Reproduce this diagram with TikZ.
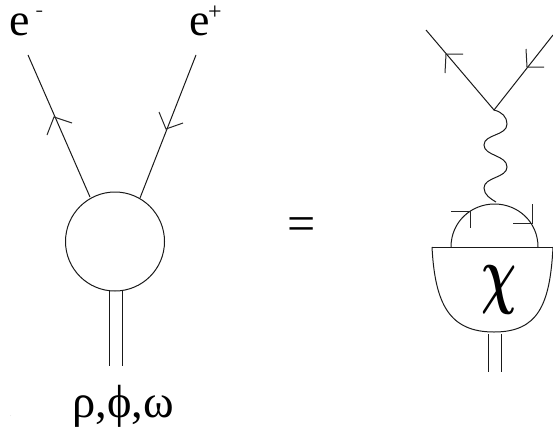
\documentclass[tikz,border=0pt]{standalone}
\usepackage{fontspec}
\setmainfont{Liberation Serif}
\begin{document}
\begin{tikzpicture}[x=1pt,y=-1pt,
  line/.style={draw=black!90,line width=1pt,line join=miter},
  barb/.style={draw=black!85,line width=1pt},
  lbl/.style={inner sep=0pt,outer sep=0pt,anchor=base west}]
\useasboundingbox (0,0) rectangle (553,431);
% labels
\node[lbl,font=\fontsize{46}{46}\selectfont] (em) at (9.5,35.5) {e};
\node[lbl,font=\fontsize{16}{16}\selectfont] (emsup) at (35.5,15.5) {\scalebox{1.4}[1]{-}};
\node[lbl,font=\fontsize{46}{46}\selectfont] (ep) at (189.5,35.5) {e};
\node[lbl,font=\fontsize{24}{24}\selectfont] (epsup) at (208,19) {+};
\node[lbl,font=\fontsize{46.5}{46.5}\selectfont] (mesons) at (72.5,417) {ρ,ϕ,ω};
\node[lbl,font=\fontsize{50}{50}\selectfont] (eq) at (287,240.5) {=};
\node[lbl,font=\fontsize{3}{3}\selectfont] (dot) at (10.5,416.5) {.};
% left blob
\node[circle,line,minimum size=99pt,inner sep=0pt] (blob) at (115,241.5) {};
\coordinate (a1) at (28,55);
\coordinate (a2) at (90,197);
\coordinate (b1) at (196,55);
\coordinate (b2) at (140,198);
\draw[line] (a1) -- (a2);
\draw[line] (b1) -- (b2);
\draw[barb] (47,135) -- (54,117) -- (72,123);
\draw[barb] (159,112) -- (166,129) -- (183,123);
\coordinate (c1) at (109,291);
\coordinate (c2) at (109,366);
\coordinate (d1) at (122,291);
\coordinate (d2) at (122,366);
\draw[line] (c1) -- (c2);
\draw[line] (d1) -- (d2);
% right vertex
\coordinate (v) at (494,110);
\coordinate (f1) at (426,30);
\coordinate (f2) at (553,35);
\draw[line] (f1) -- (v) -- (f2);
\draw[barb] (445,73) -- (446,54) -- (463,54);
\draw[barb] (526,49) -- (527,67) -- (544,67);
% photon
\coordinate (w) at (496,202);
\draw[line] (v) .. controls (502,112) and (507,117) .. (507,124)
  .. controls (507,136) and (484,134) .. (484,145)
  .. controls (484,156) and (507,155) .. (507,167)
  .. controls (507,178) and (484,177) .. (484,188)
  .. controls (484,195) and (491,199) .. (w);
% quark loop
\coordinate (q1) at (451,247);
\coordinate (q2) at (538,247);
\draw[line] (q1) .. controls (451,222) and (471,204) .. (494.5,204)
  .. controls (518,204) and (538,222) .. (q2);
\draw[barb] (451,211) -- (470,211) -- (470,228);
\draw[barb] (532,204) -- (532,223) -- (513,223);
% bowl
\coordinate (h1) at (432,247);
\coordinate (h2) at (553,247);
\draw[line] (h1) -- (h2);
\draw[line] (h1) .. controls (435,305) and (450,332) .. (494,332)
  .. controls (538,332) and (550,305) .. (h2);
\node[inner sep=0pt] (chi) at (499,289.5) {\scalebox{4.9}[7.6]{\boldmath$\chi$}};
\coordinate (g1) at (488,334);
\coordinate (g2) at (488,372);
\coordinate (k1) at (501,334);
\coordinate (k2) at (501,372);
\draw[line] (g1) -- (g2);
\draw[line] (k1) -- (k2);
\end{tikzpicture}
\end{document}
